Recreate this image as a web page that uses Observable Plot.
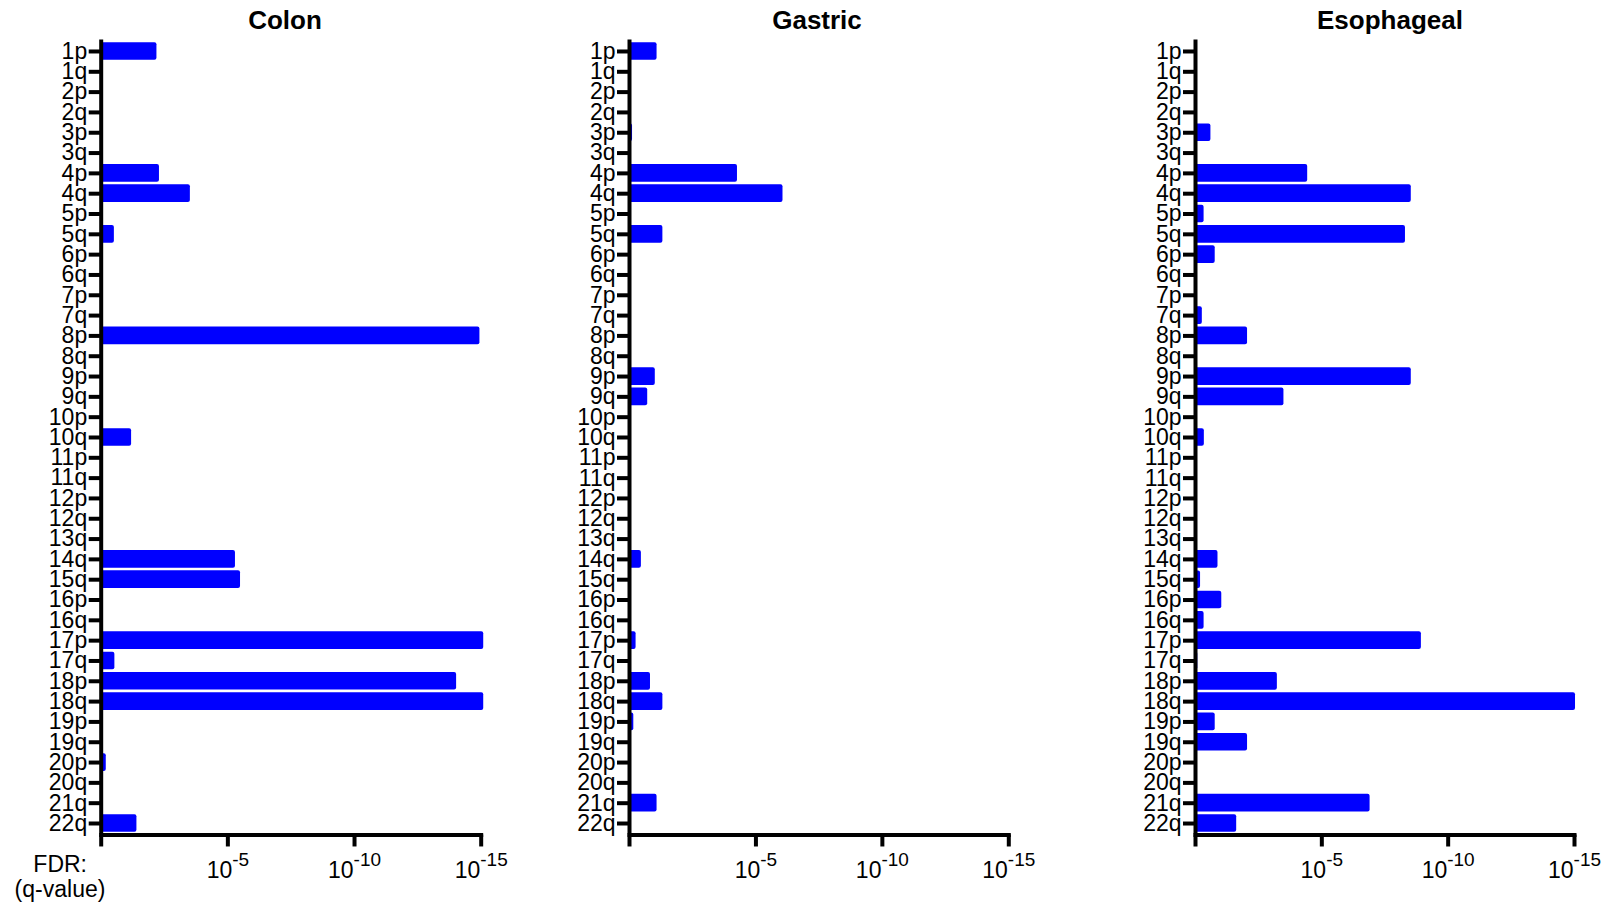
<!DOCTYPE html>
<html><head><meta charset="utf-8">
<script src="https://cdn.jsdelivr.net/npm/d3@7"></script>
<script src="https://cdn.jsdelivr.net/npm/@observablehq/plot@0.6"></script>
<style>
body{margin:0;background:#fff;}
#wrap{position:relative;width:1613px;height:909px;overflow:hidden;font-family:"Liberation Sans",Arial,sans-serif;color:#000;}
.panel{position:absolute;top:0;}
.panel svg{overflow:visible;}
.title{position:absolute;top:7px;font-size:26px;font-weight:bold;line-height:1;transform:translateX(-50%);white-space:nowrap;}
.lab{position:absolute;font-size:23px;line-height:1;white-space:nowrap;}
</style></head><body><div id="wrap"></div>
<script>
// Chromosome arms (categories)
const arms = ["1p","1q","2p","2q","3p","3q","4p","4q","5p","5q","6p","6q","7p","7q","8p","8q","9p","9q","10p","10q","11p","11q","12p","12q","13q","14q","15q","16p","16q","17p","17q","18p","18q","19p","19q","20p","20q","21q","22q"];
// -log10(q) values per arm
const colon      = [2.2,0,0,0,0,0,2.3,3.52,0,0.52,0,0,0,0,14.95,0,0,0,0,1.2,0,0,0,0,0,5.3,5.5,0,0,15.1,0.54,14.03,15.1,0,0,0.2,0,0,1.41];
const gastric    = [1.09,0,0,0,0.12,0,4.27,6.07,0,1.32,0,0,0,0,0,0,1.02,0.72,0,0,0,0,0,0,0,0.47,0,0,0,0.26,0,0.83,1.32,0.17,0,0,0,1.09,0];
const esophageal = [0,0,0,0,0.61,0,4.44,8.54,0.34,8.31,0.78,0,0,0.27,2.06,0,8.54,3.5,0,0.35,0,0,0,0,0,0.89,0.2,1.04,0.34,8.94,0.09,3.24,15.04,0.78,2.06,0,0,6.91,1.63];
const panelNames = ["Colon","Gastric","Esophageal"];
const xTicks = [0,5,10,15];
const xTickLabels = ["","10^-5","10^-10","10^-15"];

const seriesList = [colon, gastric, esophageal];
const layout = [
  {left:0,      ml:100.7, inner:380,   titleX:285},
  {left:529,    ml:100,   inner:379.3, titleX:817},
  {left:1094.5, ml:100,   inner:379,   titleX:1390}
];
const wrap = document.getElementById("wrap");
const ns = "http://www.w3.org/2000/svg";
const font = '"Liberation Sans", Arial, sans-serif';

panelNames.forEach((name, k) => {
  const L = layout[k];
  const vals = seriesList[k];
  const data = arms.map((a, i) => ({arm: a, v: vals[i]})).filter(d => d.v > 0);
  const mr = 2;
  const svg = Plot.plot({
    width: L.ml + L.inner + mr,
    height: 909,
    marginLeft: L.ml, marginRight: mr, marginTop: 39.5, marginBottom: 74.5,
    style: {fontFamily: font, fontSize: "23px", color: "#000", background: "transparent", overflow: "visible"},
    x: {domain: [0, 15], axis: null},
    y: {domain: arms, padding: 0.13, round: false, axis: null},
    marks: [
      Plot.barX(data, {x: "v", y: "arm", fill: "#0000ff", rx: 2}),
      Plot.ruleX([0], {stroke: "#000", strokeWidth: 4}),
      Plot.frame({anchor: "bottom", stroke: "#000", strokeWidth: 4}),
      Plot.axisY({tickSize: 12, tickPadding: 2, strokeWidth: 4, fontSize: 23, label: null, fill: "#000", stroke: "#000"}),
      Plot.axisX({ticks: xTicks, tickSize: 12, tickPadding: 15, strokeWidth: 4, fontSize: 23, label: null, fill: "#000", stroke: "#000",
        tickFormat: d => xTickLabels[xTicks.indexOf(d)]})
    ]
  });
  svg.querySelectorAll("text").forEach(t => {
    const s = t.textContent;
    if (s.includes("^")) {
      const [base, exp] = s.split("^");
      t.textContent = "";
      const t1 = document.createElementNS(ns, "tspan");
      t1.textContent = base;
      const t2 = document.createElementNS(ns, "tspan");
      t2.setAttribute("dy", "-12");
      t2.setAttribute("font-size", "19");
      t2.textContent = exp;
      t.append(t1, t2);
    }
  });
  const div = document.createElement("div");
  div.className = "panel";
  div.style.left = L.left + "px";
  div.appendChild(svg);
  wrap.appendChild(div);

  const title = document.createElement("div");
  title.className = "title";
  title.style.left = L.titleX + "px";
  title.textContent = name;
  wrap.appendChild(title);
});

const fdr = document.createElement("div");
fdr.className = "lab";
fdr.style.left = "87px"; fdr.style.top = "852.5px"; fdr.style.transform = "translateX(-100%)";
fdr.textContent = "FDR:";
wrap.appendChild(fdr);
const qv = document.createElement("div");
qv.className = "lab";
qv.style.left = "60px"; qv.style.top = "877.5px"; qv.style.transform = "translateX(-50%)";
qv.textContent = "(q-value)";
wrap.appendChild(qv);
</script></body></html>
